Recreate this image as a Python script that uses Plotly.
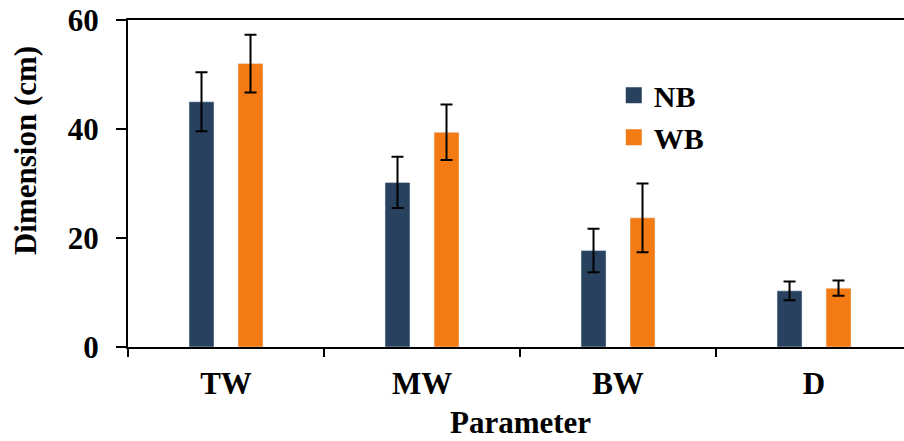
import plotly.graph_objects as go

categories = ["TW", "MW", "BW", "D"]
nb_values = [45.0, 30.2, 17.7, 10.3]
nb_errors = [5.4, 4.7, 4.0, 1.7]
wb_values = [52.0, 39.4, 23.7, 10.8]
wb_errors = [5.3, 5.1, 6.3, 1.4]
y_ticks = [0, 20, 40, 60]

NB_COLOR = "#27415F"
WB_COLOR = "#F47B14"
FONT = "Liberation Serif"

fig = go.Figure()
fig.add_trace(go.Bar(
    x=categories, y=nb_values, name="NB", marker_color=NB_COLOR, showlegend=False,
    error_y=dict(type="data", array=nb_errors, color="black", thickness=2, width=6),
))
fig.add_trace(go.Bar(
    x=categories, y=wb_values, name="WB", marker_color=WB_COLOR, showlegend=False,
    error_y=dict(type="data", array=wb_errors, color="black", thickness=2, width=6),
))
# legend proxies
fig.add_trace(go.Scatter(x=[None], y=[None], mode="markers", name="NB",
                         marker=dict(symbol="square", size=17, color=NB_COLOR), legendgroup="a"))
fig.add_trace(go.Scatter(x=[None], y=[None], mode="markers", name="WB",
                         marker=dict(symbol="square", size=17, color=WB_COLOR), legendgroup="b"))

W, H = 904, 441
L, R, T, B = 128, 0, 19.5, 93.5
pw = W - L - R
ph = H - T - B

def px_x(x_page):
    return (x_page - L) / pw

def px_y(y_page):
    return (H - B - y_page) / ph

fig.update_layout(
    width=W, height=H,
    margin=dict(l=L, r=R, t=T, b=B, autoexpand=False),
    paper_bgcolor="white", plot_bgcolor="white",
    barmode="group", bargap=0.5, bargroupgap=0.49,
    font=dict(family=FONT, size=30, color="black", weight="bold"),
    showlegend=True,
    legend=dict(x=0.626, y=px_y(69), xanchor="left", yanchor="top",
                font=dict(family=FONT, size=30, color="black", weight="bold"),
                bgcolor="rgba(0,0,0,0)", tracegroupgap=0, itemsizing="trace"),
    xaxis=dict(
        type="category", range=[-0.5, 3.459], automargin=False,
        showline=True, linecolor="black", linewidth=2, mirror=True,
        ticks="outside", tickson="boundaries", ticklen=8, tickwidth=2, tickcolor="black",
        showgrid=False, zeroline=False, ticklabelstandoff=8,
        tickfont=dict(family=FONT, size=31, color="black", weight="bold"),
    ),
    yaxis=dict(
        range=[0, 60], tickvals=y_ticks, automargin=False,
        showline=True, linecolor="black", linewidth=2,
        ticks="outside", ticklen=10, tickwidth=2, tickcolor="black",
        showgrid=False, zeroline=False, ticklabelstandoff=11,
        ticklabeloverflow="allow",
        tickfont=dict(family=FONT, size=31, color="black", weight="bold"),
    ),
    annotations=[
        dict(text="Dimension (cm)", x=px_x(25), y=px_y(151), xref="paper", yref="paper",
             xanchor="center", yanchor="middle",
             showarrow=False, textangle=-90,
             font=dict(family=FONT, size=31, color="black", weight="bold")),
        dict(text="Parameter", x=px_x(520), y=px_y(423), xref="paper", yref="paper",
             xanchor="center", yanchor="middle",
             showarrow=False,
             font=dict(family=FONT, size=31, color="black", weight="bold")),
    ],
)

fig.write_html("out.html",
               config={"displayModeBar": False},
               post_script="document.body.style.margin='0';document.body.style.overflow='hidden';")
